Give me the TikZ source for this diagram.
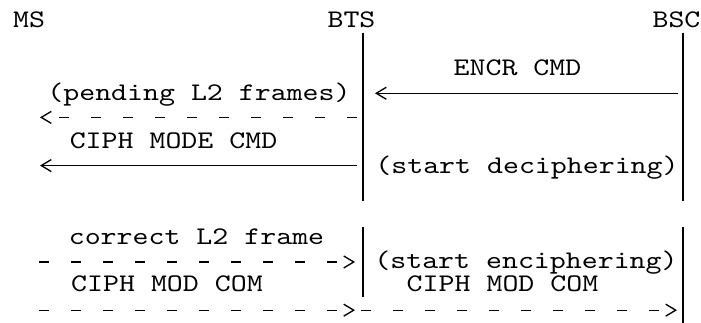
\documentclass[tikz,border=0pt]{standalone}
\usepackage{fontspec}
\newfontfamily\msgfont{lmmono10-regular.otf}[FakeStretch=1.2]
\usetikzlibrary{arrows.meta}

\tikzset{
  msgtext/.style={font=\msgfont\fontsize{19pt}{23pt}\selectfont, inner sep=0pt, anchor=base},
  lifeline/.style={line width=1pt},
  msg/.style={line width=1pt, -{Straight Barb[length=7.5pt,width=9pt]}},
  dashmsg/.style={msg, dash pattern=on 7.5pt off 16.5pt},
}

\begin{document}
\begin{tikzpicture}[x=0.75pt, y=-0.75pt]
        \fill[white] (0,0) rectangle (701,323);
        \useasboundingbox (0,0) rectangle (701,323);

        % entities
        \node[msgtext] (ms) at (29,28) {MS};
        \node[msgtext] (bts) at (351.5,28) {BTS};
        \node[msgtext] (bsc) at (676.5,28) {BSC};

        % lifelines, broken between the two phases
        \coordinate (btstop) at (363,33);
        \coordinate (btscut1) at (363,201);
        \coordinate (btscut2) at (363,227);
        \coordinate (btsend) at (363,297);
        \coordinate (bsctop) at (683,33);
        \coordinate (bsccut1) at (683,201);
        \coordinate (bsccut2) at (683,227);
        \coordinate (bscend) at (683,323);
        \draw[lifeline] (btstop) -- (btscut1);
        \draw[lifeline] (btscut2) -- (btsend);
        \draw[lifeline] (bsctop) -- (bsccut1);
        \draw[lifeline] (bsccut2) -- (bscend);

        % message ends
        \coordinate (bsc3) at (678,93.3);
        \coordinate (bts3) at (375,93.3);
        \coordinate (bts4) at (357,117.4);
        \coordinate (ms4) at (40,117.4);
        \coordinate (bts6) at (357,165.6);
        \coordinate (ms6) at (40,165.6);
        \coordinate (ms10) at (39,262);
        \coordinate (bts10) at (355,262);
        \coordinate (ms12) at (39,310.2);
        \coordinate (bts12) at (355,310.2);
        \coordinate (bts12b) at (361,310.2);
        \coordinate (bsc12) at (677,310.2);

        % messages
        \draw[msg] (bsc3) -- (bts3);
        \draw[dashmsg] (bts4) -- (ms4);
        \draw[msg] (bts6) -- (ms6);
        \draw[dashmsg] (ms10) -- (bts10);
        \draw[dashmsg] (ms12) -- (bts12);
        \draw[dashmsg] (bts12b) -- (bsc12);

        % labels
        \node[msgtext] (encr) at (517.5,76) {ENCR CMD};
        \node[msgtext] (pending) at (199,101) {(pending L2 frames)};
        \node[msgtext] (ciphcmd) at (173.5,148.5) {CIPH MODE CMD};
        \node[msgtext] (decipher) at (527,174) {(start deciphering)};
        \node[msgtext] (correct) at (196.5,245) {correct L2 frame};
        \node[msgtext] (encipher) at (526,268.5) {(start enciphering)};
        \node[msgtext] (ciphcom1) at (167,292) {CIPH MOD COM};
        \node[msgtext] (ciphcom2) at (502.5,292) {CIPH MOD COM};
\end{tikzpicture}
\end{document}
